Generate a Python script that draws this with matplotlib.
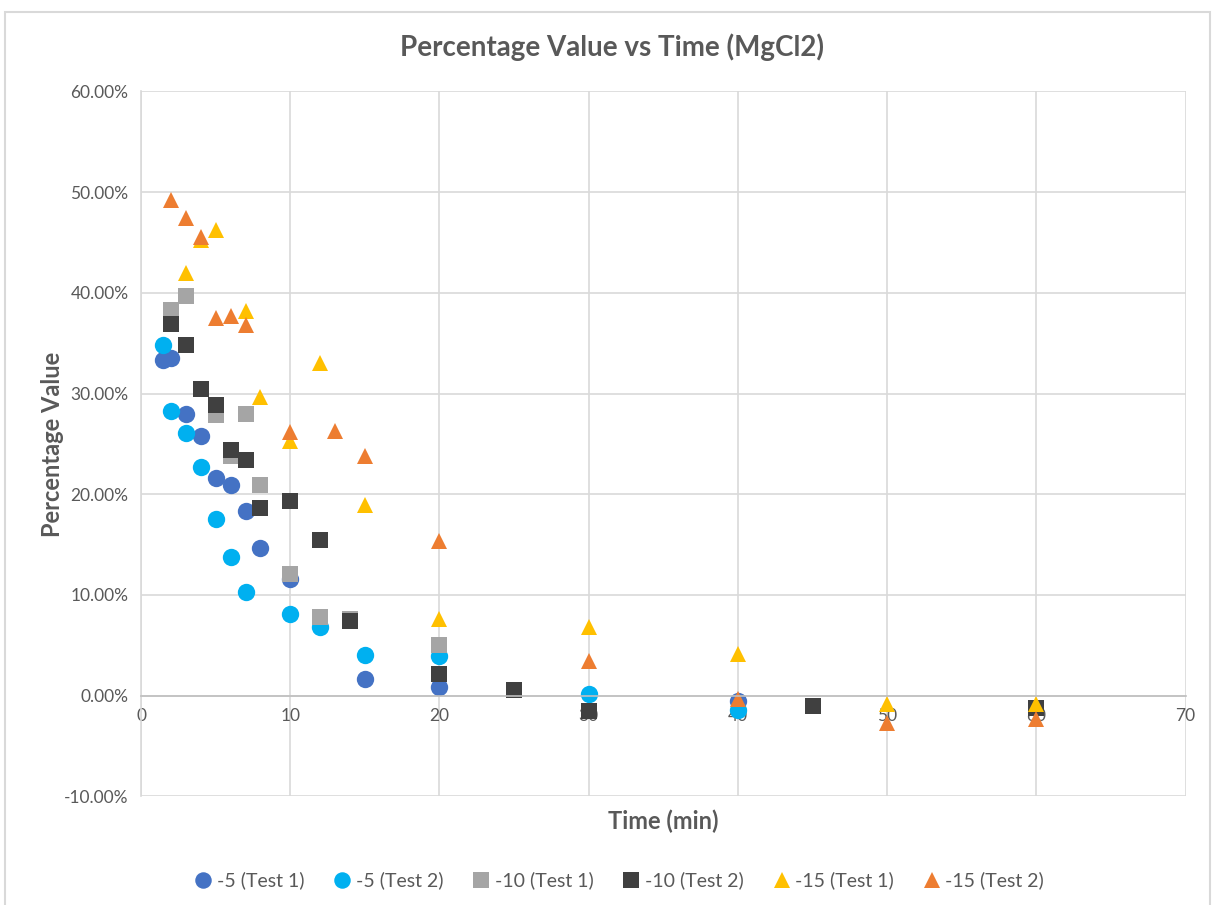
import matplotlib.pyplot as plt
from matplotlib.patches import Rectangle
from matplotlib.ticker import FuncFormatter, MultipleLocator

# Datos por serie: tiempo (min) y valor porcentual (%)
t_m5_1 = [1.5, 2, 3, 4, 5, 6, 7, 8, 10, 15, 20, 40]
v_m5_1 = [33.3, 33.5, 28.0, 25.8, 21.6, 20.9, 18.3, 14.7, 11.6, 1.7, 0.9, -0.5]

t_m5_2 = [1.5, 2, 3, 4, 5, 6, 7, 10, 12, 15, 20, 30, 40]
v_m5_2 = [34.8, 28.3, 26.1, 22.7, 17.5, 13.8, 10.3, 8.1, 6.8, 4.0, 3.9, 0.2, -1.4]

t_m10_1 = [2, 3, 5, 6, 7, 8, 10, 12, 14, 20]
v_m10_1 = [38.3, 39.7, 27.9, 23.8, 28.0, 20.9, 12.1, 7.8, 7.6, 5.0]

t_m10_2 = [2, 3, 4, 5, 6, 7, 8, 10, 12, 14, 20, 25, 30, 45, 60]
v_m10_2 = [36.9, 34.8, 30.5, 28.9, 24.4, 23.4, 18.6, 19.3, 15.5, 7.4, 2.2, 0.6, -1.5, -1.0, -1.2]

t_m15_1 = [3, 4, 5, 7, 8, 10, 12, 15, 20, 30, 40, 50, 60]
v_m15_1 = [42.0, 45.2, 46.2, 38.2, 29.7, 25.3, 33.0, 18.9, 7.6, 6.8, 4.1, -0.8, -0.8]

t_m15_2 = [2, 3, 4, 5, 6, 7, 10, 13, 15, 20, 30, 40, 50, 60]
v_m15_2 = [49.2, 47.4, 45.5, 37.5, 37.7, 36.8, 26.2, 26.3, 23.8, 15.4, 3.4, -0.3, -2.7, -2.3]

series = [
    ('-5 (Test 1)', t_m5_1, v_m5_1, 'o', '#4472C4', 12.5),
    ('-5 (Test 2)', t_m5_2, v_m5_2, 'o', '#00B0F0', 12.5),
    ('-10 (Test 1)', t_m10_1, v_m10_1, 's', '#A5A5A5', 11.5),
    ('-10 (Test 2)', t_m10_2, v_m10_2, 's', '#404040', 11.5),
    ('-15 (Test 1)', t_m15_1, v_m15_1, '^', '#FFC000', 12),
    ('-15 (Test 2)', t_m15_2, v_m15_2, '^', '#ED7D31', 12),
]

plt.rcParams['font.family'] = ['Lato', 'DejaVu Sans']
texto = '#595959'

fig = plt.figure(figsize=(12.16, 9.05), dpi=100)
ax = fig.add_axes([0.116, 0.120, 0.859, 0.779])

for nombre, t, v, mk, col, ms in series:
    ax.plot(t, v, linestyle='none', marker=mk, markersize=ms, color=col,
            markeredgewidth=0, label=nombre)

ax.set_xlim(0, 70)
ax.set_ylim(-10, 60)
ax.xaxis.set_major_locator(MultipleLocator(10))
ax.yaxis.set_major_locator(MultipleLocator(10))
ax.yaxis.set_major_formatter(FuncFormatter(lambda y, p: f'{y:.2f}%'))
ax.grid(True, color='#D9D9D9', linewidth=1.2)
ax.set_axisbelow(True)

for lado in ['top', 'right']:
    ax.spines[lado].set_visible(False)
ax.spines['left'].set_color('#D9D9D9')
ax.spines['left'].set_linewidth(1.2)
ax.spines['bottom'].set_position(('data', 0))
ax.spines['bottom'].set_color('#BFBFBF')
ax.spines['bottom'].set_linewidth(1.2)
ax.tick_params(length=0, labelsize=12.5, colors=texto, pad=9)

fig.text(0.503, 0.948, 'Percentage Value vs Time (MgCl2)', fontsize=20, fontweight='bold',
         color=texto, ha='center', va='center')
ax.set_xlabel('Time (min)', fontsize=17, fontweight='bold', color=texto)
ax.xaxis.set_label_coords(0.5, -0.018)
ax.set_ylabel('Percentage Value', fontsize=17, fontweight='bold', color=texto)
ax.yaxis.set_label_coords(-0.074, 0.5)

fig.legend(loc='center', bbox_to_anchor=(0.508, 0.027), ncol=6, frameon=False,
           fontsize=14, labelcolor=texto, handletextpad=0.1, columnspacing=1.35,
           handlelength=1.2, markerscale=0.95)

# marco exterior del gráfico
fig.patches.append(Rectangle((0.004, -0.01), 0.991, 0.997, transform=fig.transFigure,
                             fill=False, edgecolor='#D9D9D9', linewidth=1.5))

plt.savefig('out.png', dpi=100)
